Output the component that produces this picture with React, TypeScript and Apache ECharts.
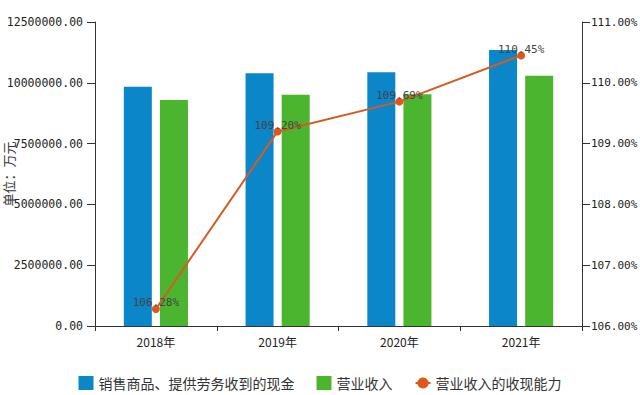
import React, { useEffect, useRef } from "react";
import * as echarts from "echarts";

const categories = ["2018年", "2019年", "2020年", "2021年"];
const cashReceived = [9840000, 10390000, 10430000, 11350000];
const revenue = [9290000, 9510000, 9530000, 10290000];
const cashRatio = [106.28, 109.2, 109.69, 110.45];
const seriesNames = ["销售商品、提供劳务收到的现金", "营业收入", "营业收入的收现能力"];

export default function App() {
  const ref = useRef<HTMLDivElement>(null);
  useEffect(() => {
    if (!ref.current) return;
    const chart = echarts.init(ref.current, null, { renderer: "svg" });
    const mono = "'DejaVu Sans Mono', 'Liberation Mono', monospace";
    const cjk = "'Noto Sans CJK SC', 'Noto Sans', sans-serif";
    chart.setOption({
      animation: false,
      backgroundColor: "#ffffff",
      grid: { left: 95, right: 58, top: 22, bottom: 69, containLabel: false, outerBoundsMode: "none" },
      legend: {
        bottom: 0,
        left: "center",
        itemWidth: 15,
        itemHeight: 14,
        itemGap: 22,
        textStyle: { fontFamily: cjk, fontSize: 14, color: "#333" },
        data: [
          { name: seriesNames[0], icon: "rect" },
          { name: seriesNames[1], icon: "rect" },
          { name: seriesNames[2] },
        ],
      },
      xAxis: {
        type: "category",
        data: categories,
        axisLine: { lineStyle: { color: "#333", width: 1 } },
        axisTick: { show: true, length: 5, lineStyle: { color: "#333" } },
        axisLabel: { fontFamily: cjk, fontSize: 12, color: "#222", margin: 9 },
      },
      yAxis: [
        {
          type: "value",
          min: 0,
          max: 12500000,
          interval: 2500000,
          name: "单位：万元",
          nameLocation: "middle",
          nameGap: 80,
          nameRotate: 90,
          nameMoveOverlap: false,
          nameTextStyle: { fontFamily: cjk, fontSize: 13, color: "#333" },
          axisLine: { show: true, lineStyle: { color: "#333" } },
          axisTick: { show: true, length: 8, lineStyle: { color: "#333" } },
          axisLabel: {
            fontFamily: mono,
            fontSize: 11.5,
            color: "#222",
            margin: 12,
            formatter: (v: number) => v.toFixed(2),
          },
          splitLine: { show: false },
        },
        {
          type: "value",
          min: 106,
          max: 111,
          interval: 1,
          position: "right",
          axisLine: { show: true, lineStyle: { color: "#333" } },
          axisTick: { show: true, length: 8, lineStyle: { color: "#333" } },
          axisLabel: {
            fontFamily: mono,
            fontSize: 11,
            color: "#222",
            margin: 9,
            formatter: (v: number) => v.toFixed(2) + "%",
          },
          splitLine: { show: false },
        },
      ],
      series: [
        {
          name: seriesNames[0],
          type: "bar",
          data: cashReceived,
          barWidth: 28,
          barGap: "29%",
          itemStyle: { color: "#0b86c8" },
        },
        {
          name: seriesNames[1],
          type: "bar",
          data: revenue,
          barWidth: 28,
          itemStyle: { color: "#4cb52f" },
        },
        {
          name: seriesNames[2],
          type: "line",
          yAxisIndex: 1,
          data: cashRatio,
          symbol: "circle",
          symbolSize: 8,
          z: 5,
          lineStyle: { color: "#d65a22", width: 2 },
          itemStyle: { color: "#e0561c" },
          label: {
            show: true,
            position: "inside",
            offset: [0, -6],
            fontFamily: mono,
            fontSize: 11,
            color: "#444",
            formatter: (p: any) => Number(p.value).toFixed(2) + "%",
          },
        },
      ],
    });
    return () => chart.dispose();
  }, []);
  return <div ref={ref} style={{ width: 640, height: 395, position: "absolute", left: 0, top: 0 }} />;
}
